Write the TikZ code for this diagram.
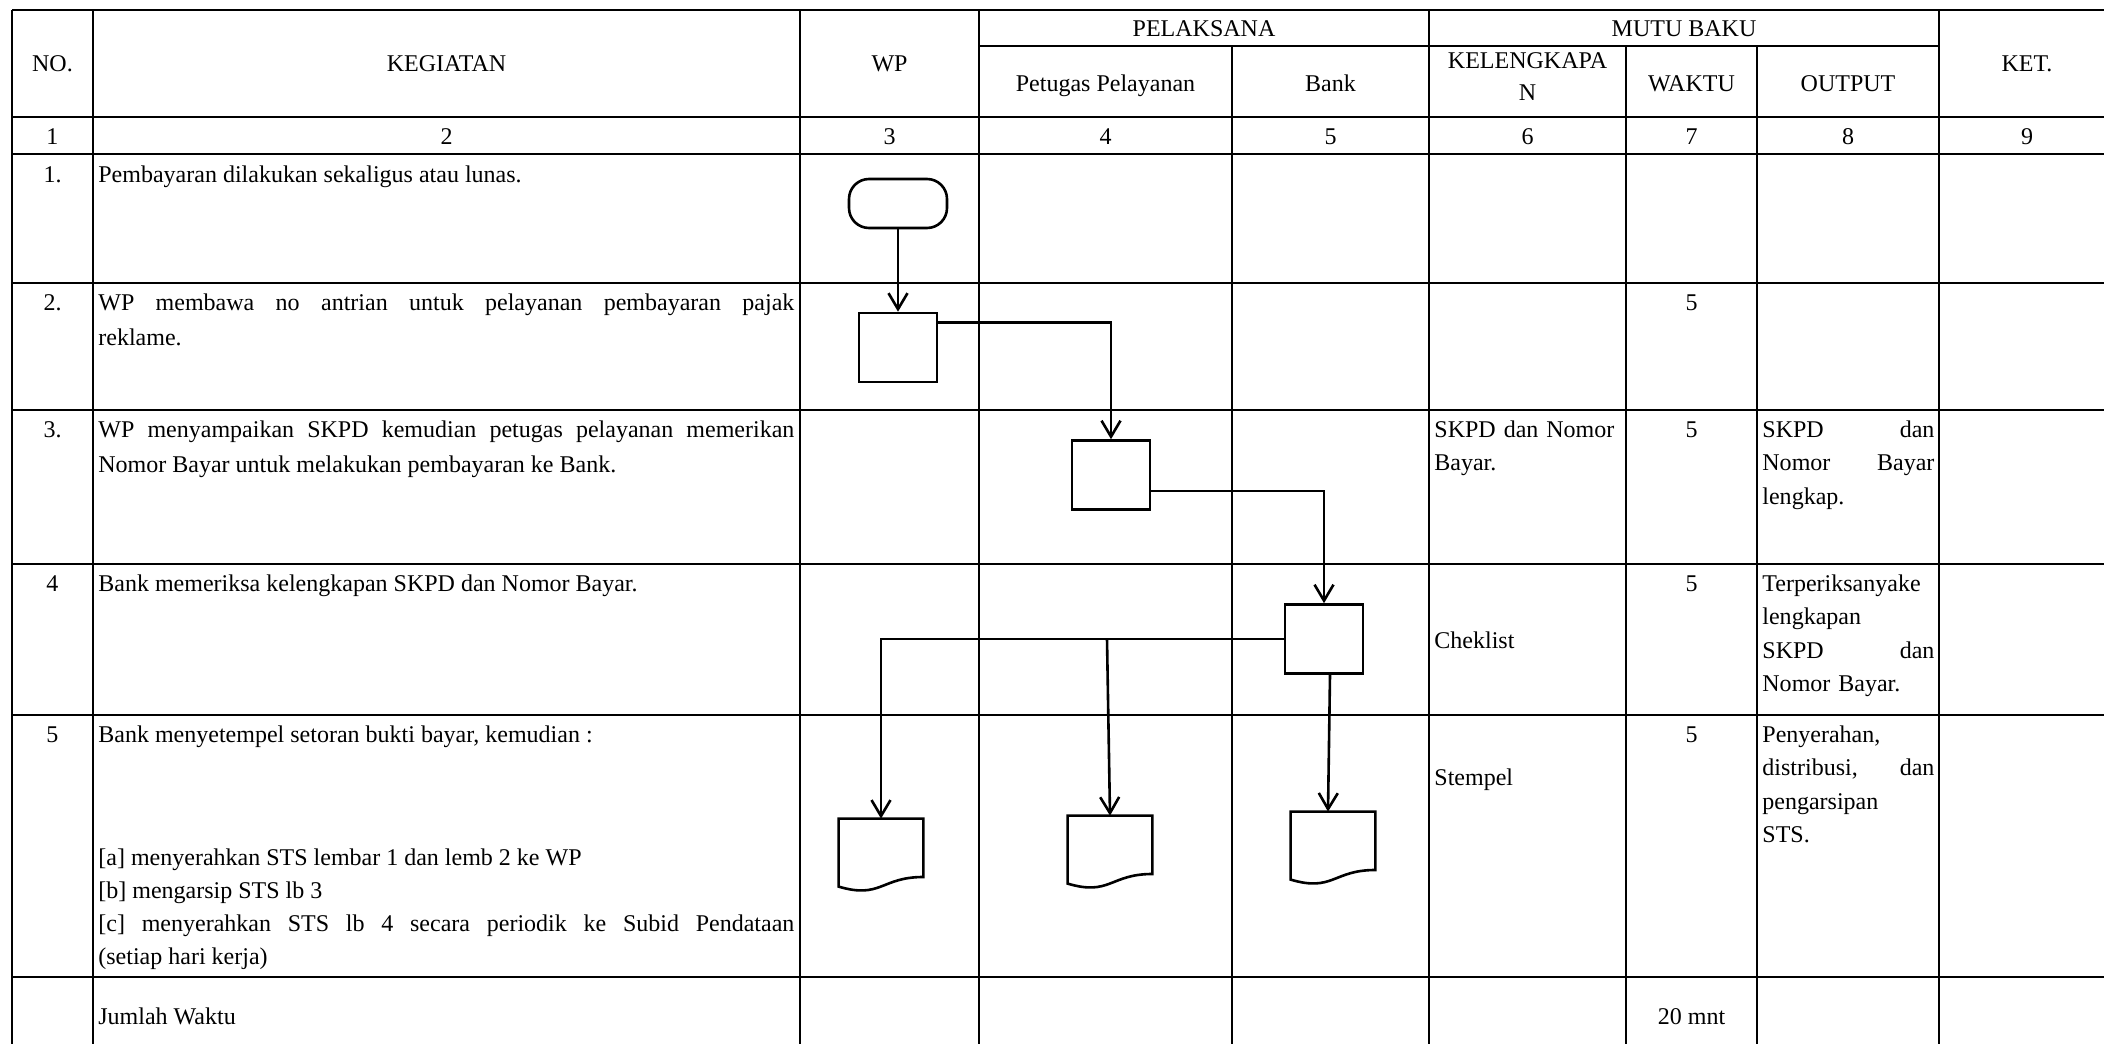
\documentclass[tikz,border=0pt]{standalone}
\usepackage{fontspec}
\setmainfont{Liberation Serif}
\usetikzlibrary{arrows.meta,calc,positioning}
\tikzset{
  tabline/.style={line width=0.8pt},
  shapeline/.style={line width=1.3pt},
  proc/.style={draw, line width=1.3pt, minimum width=39pt, minimum height=34.5pt, inner sep=0pt},
  term/.style={draw, line width=1.3pt, rounded corners=10pt, minimum width=49pt, minimum height=24.5pt, inner sep=0pt},
  docbox/.style={minimum width=42pt, minimum height=36pt, inner sep=0pt},
  myarrow/.style={-{Straight Barb[length=8pt,width=9.5pt]}, line width=1.3pt},
  hd/.style={anchor=base, inner sep=0pt},
  txt/.style={anchor=base west, inner sep=0pt, align=justify, text width=348pt},
  narrow/.style={anchor=base west, inner sep=0pt, align=left, text width=86pt,
    font=\fontsize{12}{16.75}\selectfont},
}

\begin{document}
\begin{tikzpicture}[x=0.5pt, y=-0.5pt, font=\fontsize{12}{17.5}\selectfont]
    \useasboundingbox (0,0) rectangle (2104,1044);
    % table grid
    \foreach \y in {10,117,154,283,410,564,715,977}
      \draw[tabline] (12,\y) -- (2104,\y);
    \draw[tabline] (979,46) -- (1939,46);
    \foreach \x in {12,93,800,979,1429,1939}
      \draw[tabline] (\x,10) -- (\x,1044);
    \foreach \x in {1232,1626,1757}
      \draw[tabline] (\x,46) -- (\x,1044);

    % header
    \node[hd] (hno) at (52.5,71) {NO.};
    \node[hd] (hkeg) at (446.5,71) {KEGIATAN};
    \node[hd] (hwp) at (889.5,71) {WP};
    \node[hd] (hpel) at (1204,36) {PELAKSANA};
    \node[hd] (hmutu) at (1684,36) {MUTU BAKU};
    \node[hd] (hket) at (2027,71) {KET.};
    \node[hd] (hpetugas) at (1105.5,91) {Petugas Pelayanan};
    \node[hd] (hbank) at (1330.5,91) {Bank};
    \node[hd, align=center, font=\fontsize{12}{16}\selectfont] (hkel) at (1527.5,100) {KELENGKAPA\\N};
    \node[hd] (hwaktu) at (1691.5,91) {WAKTU};
    \node[hd] (hout) at (1848,91) {OUTPUT};
    \foreach \x/\n in {52.5/1,446.5/2,889.5/3,1105.5/4,1330.5/5,1527.5/6,1691.5/7,1848/8,2027/9}
      \node[hd] (num\n) at (\x,144) {\n};

    % row numbers
    \foreach \y/\n [count=\i] in {182/1.,310/2.,437/3.,591/4,742/5}
      \node[hd] (row\i) at (52.5,\y) {\n};

    % kegiatan
    \node[txt] (keg1) at (98,182) {Pembayaran dilakukan sekaligus atau lunas.};
    \node[txt] (keg2) at (98,310) {WP membawa no antrian untuk pelayanan pembayaran pajak\linebreak reklame.};
    \node[txt] (keg3) at (98,437) {WP menyampaikan SKPD kemudian petugas pelayanan memerikan\linebreak Nomor Bayar untuk melakukan pembayaran ke Bank.};
    \node[txt] (keg4) at (98,591) {Bank memeriksa kelengkapan SKPD dan Nomor Bayar.};
    \node[txt] (keg5) at (98,742) {Bank menyetempel setoran bukti bayar, kemudian :};
    \node[txt, font=\fontsize{12}{16.5}\selectfont] (keg5list) at (98,865) {[a] menyerahkan STS lembar 1 dan lemb 2 ke WP\par
      [b] mengarsip STS lb 3\par
      [c] menyerahkan STS lb 4 secara periodik ke Subid Pendataan\linebreak (setiap hari kerja)};
    \node[txt] (kegtotal) at (98,1024) {Jumlah Waktu};

    % mutu baku
    \node[narrow, text width=95pt] (kel3) at (1434,437) {SKPD dan Nomor\\Bayar.};
    \node[narrow] (kel4) at (1434,648) {Cheklist};
    \node[narrow] (kel5) at (1434,785) {Stempel};
    \foreach \y [count=\i] in {310,437,591,742}
      \node[hd] (waktu\i) at (1691.5,\y) {5};
    \node[hd] (waktutotal) at (1691.5,1024) {20 mnt};
    \node[narrow] (out3) at (1762,437) {SKPD\hfill dan\\Nomor\hfill Bayar\\lengkap.};
    \node[narrow] (out4) at (1762,591) {Terperiksanyake\\lengkapan\\SKPD\hfill dan\\Nomor Bayar.};
    \node[narrow] (out5) at (1762,742) {Penyerahan,\\distribusi,\hfill dan\\pengarsipan\\STS.};

    % flowchart
    \node[term] (start) at (898,203.5) {};
    \node[proc] (wp1) at (898,347.5) {};
    \node[proc] (petugas1) at (1111,475) {};
    \node[proc] (bank1) at (1324,639) {};
    \node[docbox] (stsA) at (881,855) {};
    \node[docbox] (stsB) at (1110,852) {};
    \node[docbox] (stsC) at (1333,848) {};
    \foreach \d in {stsA,stsB,stsC}
      \draw[shapeline] (\d.north west) -- (\d.north east)
        -- ($(\d.north east)!0.802!(\d.south east)$)
        .. controls ($(\d.north)!0.802!(\d.south)$) and ($(\d.north)!1.107!(\d.south)$)
        .. ($(\d.north west)!0.934!(\d.south west)$) -- cycle;

    \draw[myarrow] (start) -- (wp1);
    \draw[myarrow] ($(wp1.north east)+(0,11)$) -| (petugas1.north);
    \draw[myarrow] ($(petugas1.south east)+(0,-20)$) -| (bank1.north);
    \draw[myarrow] (bank1.west) -| (stsA.north);
    \draw[myarrow] ($(stsB.north |- bank1.west)+(-3,0)$) -- (stsB.north);
    \draw[myarrow] ($(bank1.south)+(6,0)$) -- ($(stsC.north)+(-5,0)$);
\end{tikzpicture}
\end{document}
